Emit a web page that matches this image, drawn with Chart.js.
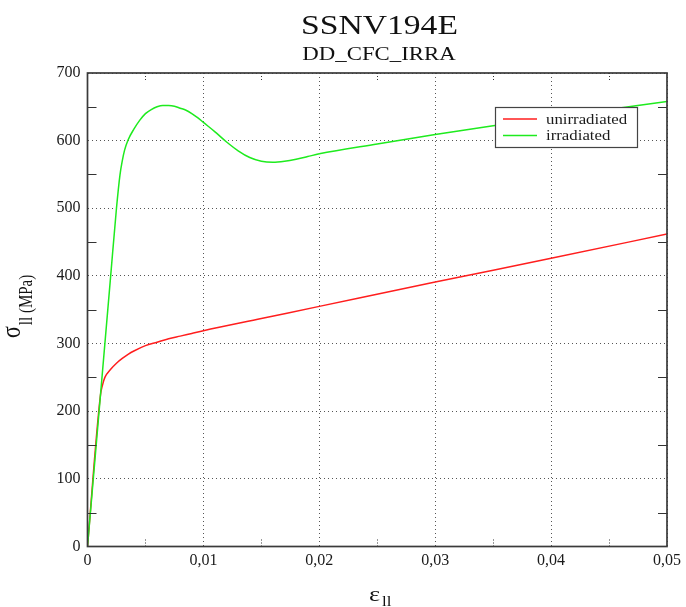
<!DOCTYPE html>
<html>
<head>
<meta charset="utf-8">
<script src="https://cdn.jsdelivr.net/npm/chart.js@4/dist/chart.umd.min.js"></script>
<style>
  html, body { margin: 0; padding: 0; background: #fff; }
  #wrap { width: 686px; height: 607px; }
</style>
</head>
<body>
<div id="wrap"><canvas id="c" width="686" height="607"></canvas></div>
<script>
// ---- data ----
const titleText = 'SSNV194E';
const subtitleText = 'DD_CFC_IRRA';
const seriesLabels = ['unirradiated', 'irradiated'];

const unirrStrain = [0, 0.00112, 0.0013, 0.0015, 0.002, 0.0025, 0.003, 0.0035, 0.004, 0.005, 0.006, 0.007, 0.008, 0.009, 0.010, 0.015, 0.020, 0.030, 0.040, 0.050];
const unirrStress = [0, 224, 239, 250, 262, 271, 278, 284, 289, 297, 302, 307, 311, 315, 319, 337, 355, 391, 426, 462];

const irrStrain = [0, 0.001, 0.002, 0.0025, 0.0028, 0.003, 0.0032, 0.0035, 0.004, 0.0045, 0.005, 0.0055, 0.006, 0.0065, 0.007, 0.0075, 0.008, 0.0085, 0.009, 0.0095, 0.010, 0.011, 0.012, 0.013, 0.014, 0.015, 0.016, 0.017, 0.018, 0.019, 0.020, 0.025, 0.030, 0.035, 0.040, 0.045, 0.050];
const irrStress = [0, 200, 400, 500, 549, 570, 586, 601, 617, 630, 640, 646, 650, 652, 652, 651, 648, 645, 640, 634, 627, 613, 598, 585, 575, 569.5, 568, 569.5, 572.5, 576.5, 580.5, 595, 609, 622, 634, 646, 658];

const xMin = 0, xMax = 0.05, xStep = 0.01, xMinorStep = 0.005;
const yMin = 0, yMax = 700, yStep = 100, yMinorStep = 50;

const redColor = 'rgb(255,30,30)';
const greenColor = 'rgb(30,235,30)';
const SERIF = "'Liberation Serif', 'Times New Roman', serif";
const SX = 1.2; // horizontal stretch seen in the reference text

function toPoints(xs, ys) { return xs.map((x, i) => ({ x: x, y: ys[i] })); }

function stretchedText(ctx, text, x, y, font, align, color) {
  ctx.save();
  ctx.font = font;
  ctx.fillStyle = color || '#111';
  ctx.textAlign = align || 'left';
  ctx.textBaseline = 'alphabetic';
  ctx.translate(x, y);
  ctx.scale(SX, 1);
  ctx.fillText(text, 0, 0);
  ctx.restore();
}

const decorPlugin = {
  id: 'decor',
  afterDatasetsDraw(chart) {
    const ctx = chart.ctx;
    const a = chart.chartArea;
    const xs = chart.scales.x, ys = chart.scales.y;

    // minor ticks
    ctx.save();
    ctx.strokeStyle = '#333';
    ctx.lineWidth = 1.2;
    for (let v = yMin + yMinorStep; v < yMax; v += yStep) {
      const py = Math.round(ys.getPixelForValue(v)) + 0.5;
      ctx.beginPath();
      ctx.moveTo(a.left, py); ctx.lineTo(a.left + 9, py);
      ctx.moveTo(a.right, py); ctx.lineTo(a.right - 9, py);
      ctx.stroke();
    }
    ctx.setLineDash([1, 2]);
    ctx.lineWidth = 1;
    for (let v = xMin + xMinorStep; v < xMax; v += xStep) {
      const px = Math.round(xs.getPixelForValue(v)) + 0.5;
      ctx.beginPath();
      ctx.moveTo(px, a.bottom); ctx.lineTo(px, a.bottom - 7);
      ctx.moveTo(px, a.top); ctx.lineTo(px, a.top + 7);
      ctx.stroke();
    }
    ctx.restore();

    // frame
    ctx.save();
    ctx.strokeStyle = '#3a3a3a';
    ctx.lineWidth = 1.7;
    ctx.strokeRect(a.left, a.top, a.right - a.left, a.bottom - a.top);
    ctx.restore();

    // legend box
    const bx = 495, by = 107, bw = 142, bh = 40;
    ctx.save();
    ctx.fillStyle = '#fff';
    ctx.fillRect(bx, by, bw, bh);
    ctx.strokeStyle = '#444';
    ctx.lineWidth = 1.2;
    ctx.strokeRect(bx + 0.5, by + 0.5, bw, bh);
    const rows = [119, 135.5];
    chart.data.datasets.forEach((ds, i) => {
      ctx.strokeStyle = ds.borderColor;
      ctx.lineWidth = 1.3;
      ctx.beginPath();
      ctx.moveTo(503, rows[i]); ctx.lineTo(537, rows[i]);
      ctx.stroke();
      stretchedText(ctx, ds.label, 546, rows[i] + 4.5, '14px ' + SERIF, 'left', '#1a1a1a');
    });
    ctx.restore();
  },
  afterDraw(chart) {
    const ctx = chart.ctx;
    // titles
    stretchedText(ctx, titleText, 379.5, 34, '28px ' + SERIF, 'center', '#111');
    stretchedText(ctx, subtitleText, 379, 60, '19px ' + SERIF, 'center', '#111');

    // x axis label: epsilon with subscript
    stretchedText(ctx, '\u03b5', 369, 601, '22px ' + SERIF, 'left', '#111');
    stretchedText(ctx, 'll', 382, 606, '14px ' + SERIF, 'left', '#111');

    // y axis label: sigma with subscript, rotated
    ctx.save();
    ctx.fillStyle = '#111';
    ctx.textBaseline = 'alphabetic';
    ctx.textAlign = 'left';
    ctx.translate(20, 338);
    ctx.scale(SX, 1);
    ctx.rotate(-Math.PI / 2);
    ctx.font = '22px ' + SERIF;
    ctx.fillText('\u03c3', 0, 0);
    const w = ctx.measureText('\u03c3').width;
    ctx.font = '15px ' + SERIF;
    ctx.fillText('ll (MPa)', w + 1, 10);
    ctx.restore();
  }
};

new Chart(document.getElementById('c'), {
  type: 'line',
  data: {
    datasets: [
      {
        label: seriesLabels[0],
        data: toPoints(unirrStrain, unirrStress),
        borderColor: redColor,
        backgroundColor: redColor,
        borderWidth: 1.5,
        pointRadius: 0,
        cubicInterpolationMode: 'monotone',
        fill: false,
        order: 1
      },
      {
        label: seriesLabels[1],
        data: toPoints(irrStrain, irrStress),
        borderColor: greenColor,
        backgroundColor: greenColor,
        borderWidth: 1.5,
        pointRadius: 0,
        cubicInterpolationMode: 'monotone',
        fill: false,
        order: 0
      }
    ]
  },
  options: {
    responsive: false,
    animation: false,
    devicePixelRatio: 1,
    layout: { padding: { top: 73, right: 16, left: 0, bottom: 0 } },
    plugins: {
      legend: { display: false },
      title: { display: false },
      tooltip: { enabled: false }
    },
    scales: {
      x: {
        type: 'linear',
        min: xMin, max: xMax,
        afterFit: (s) => { s.height = 60.5; },
        ticks: {
          stepSize: xStep,
          padding: 5,
          color: '#1a1a1a',
          font: { family: SERIF, size: 16 },
          maxRotation: 0,
          callback: (v) => (Math.abs(v) < 1e-12 ? '0' : Number(v).toFixed(2).replace('.', ','))
        },
        grid: { color: '#555', lineWidth: 1, drawTicks: false },
        border: { display: false, dash: [1, 3] }
      },
      y: {
        type: 'linear',
        min: yMin, max: yMax,
        afterFit: (s) => { s.width = 87.5; },
        ticks: {
          stepSize: yStep,
          padding: 7,
          color: '#1a1a1a',
          font: { family: SERIF, size: 16 }
        },
        grid: { color: '#555', lineWidth: 1, drawTicks: false },
        border: { display: false, dash: [1, 3] }
      }
    }
  },
  plugins: [decorPlugin]
});
</script>
</body>
</html>
